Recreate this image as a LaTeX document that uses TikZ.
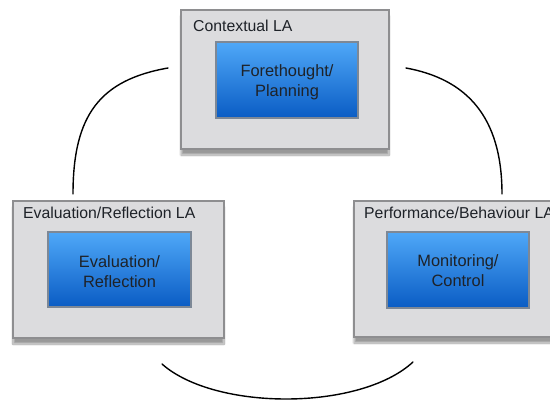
\documentclass[tikz,border=0pt]{standalone}
\usepackage{fontspec}
\setmainfont{Liberation Sans}
\usetikzlibrary{shadows.blur}
\definecolor{outerfill}{HTML}{DCDCDE}
\definecolor{outerdraw}{HTML}{8E8E90}
\definecolor{innertop}{HTML}{4FA8F8}
\definecolor{innerbot}{HTML}{0A5CC4}
\definecolor{innerdraw}{HTML}{7D8896}
\definecolor{txt}{HTML}{1E2228}
\begin{document}
\begin{tikzpicture}[x=1pt,y=-1pt,
  outerbox/.style={draw=outerdraw, line width=1.4pt, fill=outerfill, inner sep=0pt,
    blur shadow={shadow xshift=0pt, shadow yshift=-6pt, shadow blur steps=10, shadow opacity=40}},
  innerbox/.style={draw=innerdraw, line width=1.2pt, top color=innertop, bottom color=innerbot,
    inner sep=0pt, align=center, text=txt, font=\fontsize{16.4}{20}\selectfont},
  lbl/.style={anchor=base west, inner sep=0pt, text=txt, font=\fontsize{15.8}{19}\selectfont},
  arc/.style={line width=1.4pt, black, line cap=round}]
\useasboundingbox (0,0) rectangle (550,401);
\clip (0,0) rectangle (550,401);
% outer boxes
\node[outerbox, minimum width=208pt, minimum height=139pt] (ctx) at (285,79.5) {};
\node[outerbox, minimum width=211pt, minimum height=137pt] (eva) at (118.5,269.5) {};
\node[outerbox, minimum width=211pt, minimum height=136pt] (perf) at (459.5,269) {};
% labels
\node[lbl] (ctxl) at (193,32) {Contextual LA};
\node[lbl] (eval) at (23,219) {Evaluation/Reflection LA};
\node[lbl] (perfl) at (364,219) {Performance/Behaviour LA};
% inner boxes
\node[innerbox, minimum width=142pt, minimum height=76pt] (fp) at (287,80) {};
\node[innerbox, minimum width=143pt, minimum height=75pt] (er) at (119.5,269.5) {};
\node[innerbox, minimum width=142pt, minimum height=76pt] (mc) at (458,270) {};
\node[align=center, text=txt, font=\fontsize{16.4}{20}\selectfont, inner sep=0pt] (fpt) at ([yshift=-2pt]fp.center) {Forethought/\\Planning};
\node[align=center, text=txt, font=\fontsize{16.4}{20}\selectfont, inner sep=0pt] (ert) at ([yshift=-2pt]er.center) {Evaluation/\\Reflection};
\node[align=center, text=txt, font=\fontsize{16.4}{20}\selectfont, inner sep=0pt] (mct) at ([yshift=-1pt]mc.center) {Monitoring/\\Control};
% arcs
\coordinate (a1) at (168,68);
\coordinate (a2) at (73,194);
\coordinate (b1) at (406,68);
\coordinate (b2) at (502,194);
\coordinate (c1) at (162,364);
\coordinate (c2) at (413,362);
\draw[arc] (a1) .. controls (100,80) and (73,115) .. (a2);
\draw[arc] (b1) .. controls (466,79) and (502,116) .. (b2);
\draw[arc] (c1) .. controls (215,411) and (360,411) .. (c2);
\end{tikzpicture}
\end{document}
